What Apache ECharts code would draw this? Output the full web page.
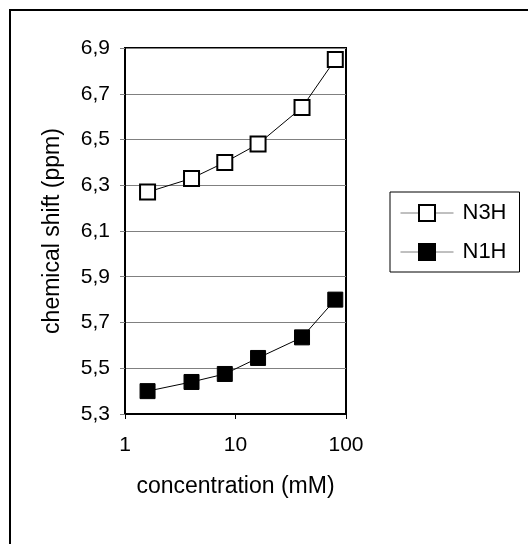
<!DOCTYPE html>
<html>
<head>
<meta charset="utf-8">
<script src="https://cdn.jsdelivr.net/npm/echarts@6/dist/echarts.min.js"></script>
<style>html,body{margin:0;padding:0;background:#fff;}#c{width:528px;height:544px;}</style>
</head>
<body>
<div id="c"></div>
<script>
var concentrations = [1.6, 4, 8, 16, 40, 80];
var n3h = [6.27, 6.33, 6.40, 6.48, 6.64, 6.85];
var n1h = [5.40, 5.44, 5.475, 5.545, 5.635, 5.80];
var seriesNames = ['N3H', 'N1H'];
var yTickMin = 5.3, yTickMax = 6.9, yTickStep = 0.2;
var xTitle = 'concentration (mM)';
var yTitle = 'chemical shift (ppm)';

var font = '"Liberation Sans", Arial, sans-serif';
function pairs(xs, ys){ return xs.map(function(x,i){return [x, ys[i]];}); }

var chart = echarts.init(document.getElementById('c'), null, {renderer:'canvas'});
chart.setOption({
  animation: false,
  backgroundColor: '#fff',
  graphic: [{
    type: 'rect', silent: true, z: -10,
    shape: {x: 10, y: 10, width: 700, height: 700},
    style: {fill: 'none', stroke: '#000', lineWidth: 2}
  }],
  grid: {left: 125, top: 48, width: 221, height: 366, show: true, borderColor: '#000', borderWidth: 2, backgroundColor: 'transparent'},
  legend: {
    orient: 'vertical', left: 390, top: 192,
    data: seriesNames,
    itemWidth: 53, itemHeight: 20, itemGap: 17,
    padding: [10, 13, 9, 10],
    borderColor: '#000', borderWidth: 1,
    lineStyle: {color: '#808080', width: 1},
    textStyle: {fontFamily: font, fontSize: 22, color: '#000', padding: [0,0,0,4]}
  },
  xAxis: {
    type: 'log', logBase: 10, min: 1, max: 100,
    name: xTitle, nameLocation: 'middle', nameGap: 61,
    nameTextStyle: {fontFamily: font, fontSize: 23, color: '#000'},
    axisLine: {show: true, lineStyle: {color: '#000', width: 2}},
    axisTick: {show: true, inside: false, length: 5, lineStyle: {color: '#000'}},
    minorTick: {show: false},
    splitLine: {show: false},
    axisLabel: {fontFamily: font, fontSize: 21, color: '#000', margin: 21}
  },
  yAxis: {
    type: 'value', min: yTickMin, max: yTickMax, interval: yTickStep,
    name: yTitle, nameLocation: 'middle', nameGap: 61, nameRotate: 90,
    nameTextStyle: {fontFamily: font, fontSize: 23, color: '#000'},
    axisLine: {show: true, lineStyle: {color: '#000', width: 2}},
    axisTick: {show: true, inside: false, length: 5, lineStyle: {color: '#808080'}},
    splitLine: {show: true, lineStyle: {color: '#808080', width: 1}},
    axisLabel: {fontFamily: font, fontSize: 21, color: '#000', margin: 15,
      formatter: function(v){ return v.toFixed(1).replace('.', ','); }}
  },
  series: [
    {
      name: seriesNames[0], type: 'line', data: pairs(concentrations, n3h),
      symbol: 'rect', symbolSize: 15,
      lineStyle: {color: '#000', width: 1},
      itemStyle: {color: '#fff', borderColor: '#000', borderWidth: 2},
      z: 5
    },
    {
      name: seriesNames[1], type: 'line', data: pairs(concentrations, n1h),
      symbol: 'rect', symbolSize: 15,
      lineStyle: {color: '#000', width: 1},
      itemStyle: {color: '#000', borderColor: '#000', borderWidth: 1},
      z: 5
    }
  ]
});
</script>
</body>
</html>
